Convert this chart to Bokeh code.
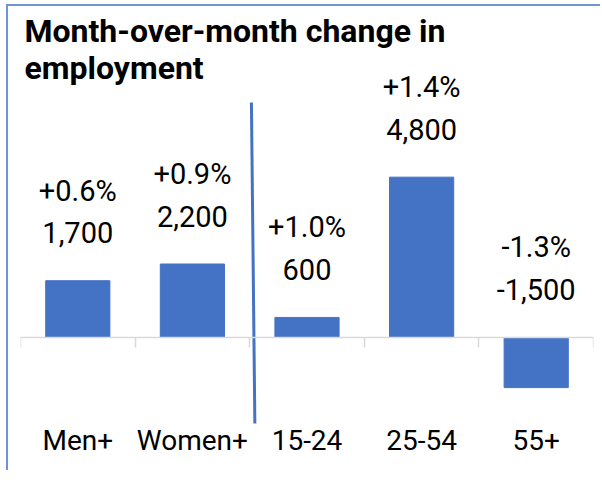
from bokeh.plotting import figure
from bokeh.models import (Range1d, FixedTicker, LinearAxis, Label, ColumnDataSource)
from bokeh.core.properties import value
from bokeh.embed import file_html
from bokeh.resources import INLINE

# ---- data ----
categories = ["Men+", "Women+", "15-24", "25-54", "55+"]
changes = [1700, 2200, 600, 4800, -1500]
pct_labels = ["+0.6%", "+0.9%", "+1.0%", "+1.4%", "-1.3%"]
value_labels = ["1,700", "2,200", "600", "4,800", "-1,500"]
title_lines = ["Month-over-month change in", "employment"]
separator_after = 2   # groups: sex | age

BAR = "#4472C4"
GRID = "#D9D9D9"
LABEL_FONT = "Roboto"

xs = [i + 0.5 for i in range(len(categories))]
tops = [max(v, 0) for v in changes]
src = ColumnDataSource(dict(x=xs, v=changes, top=tops, pct=pct_labels, val=value_labels))

W, H = 594, 466
p = figure(width=W, height=H, output_backend="svg", toolbar_location=None,
           x_range=Range1d(0, len(categories)), y_range=Range1d(-2635, 9850),
           min_border_left=12, min_border_right=9, min_border_top=2, min_border_bottom=47)
p.styles = {"border-left": "2px solid #7094D4", "border-top": "2px solid #7094D4",
            "margin-left": "6px", "margin-top": "4px"}
p.outline_line_color = None
p.xgrid.visible = False
p.ygrid.visible = False
p.yaxis.visible = False
p.background_fill_color = "white"
p.border_fill_color = "white"

# category labels axis (bottom)
xa = p.xaxis[0]
xa.ticker = FixedTicker(ticks=xs, minor_ticks=[])
xa.major_label_overrides = {x: c for x, c in zip(xs, categories)}
xa.axis_line_color = None
xa.major_tick_line_color = None
xa.minor_tick_line_color = None
xa.major_tick_out = 0
xa.major_tick_in = 0
xa.major_label_standoff = -2
xa.major_label_text_font = LABEL_FONT
xa.major_label_text_font_size = "28px"
xa.major_label_text_color = "black"

# zero line with boundary ticks
za = LinearAxis(fixed_location=0,
                ticker=FixedTicker(ticks=list(range(len(categories) + 1)), minor_ticks=[]))
za.axis_line_color = GRID
za.axis_line_width = 1.5
za.major_tick_line_color = GRID
za.major_tick_line_width = 1.5
za.major_tick_out = 10
za.major_tick_in = 0
za.minor_tick_line_color = None
za.major_label_text_alpha = 0
za.major_label_text_font_size = "1px"
p.add_layout(za, "below")

# bars
p.vbar(x="x", top="v", bottom=0, width=0.56, color=BAR, source=src)

# separator line between groups
p.segment(x0=[separator_after + 0.015], y0=[7035], x1=[separator_after + 0.045], y1=[-2575],
          line_color=BAR, line_width=3)

# data labels
p.text(x="x", y="top", text="val", source=src, y_offset=-48,
       text_align="center", text_baseline="alphabetic",
       text_font=value(LABEL_FONT), text_font_size="29px", text_color="black")
p.text(x="x", y="top", text="pct", source=src, y_offset=-90,
       text_align="center", text_baseline="alphabetic",
       text_font=value(LABEL_FONT), text_font_size="29px", text_color="black")

# title (two lines)
for i, line in enumerate(title_lines):
    p.add_layout(Label(x=4, y=395 - 37 * i, x_units="screen", y_units="screen",
                       text=line, text_font="Roboto", text_font_style="bold",
                       text_font_size="32px", text_color="black",
                       text_baseline="alphabetic", text_align="left"))

open("out.html", "w").write(file_html(p, INLINE))
